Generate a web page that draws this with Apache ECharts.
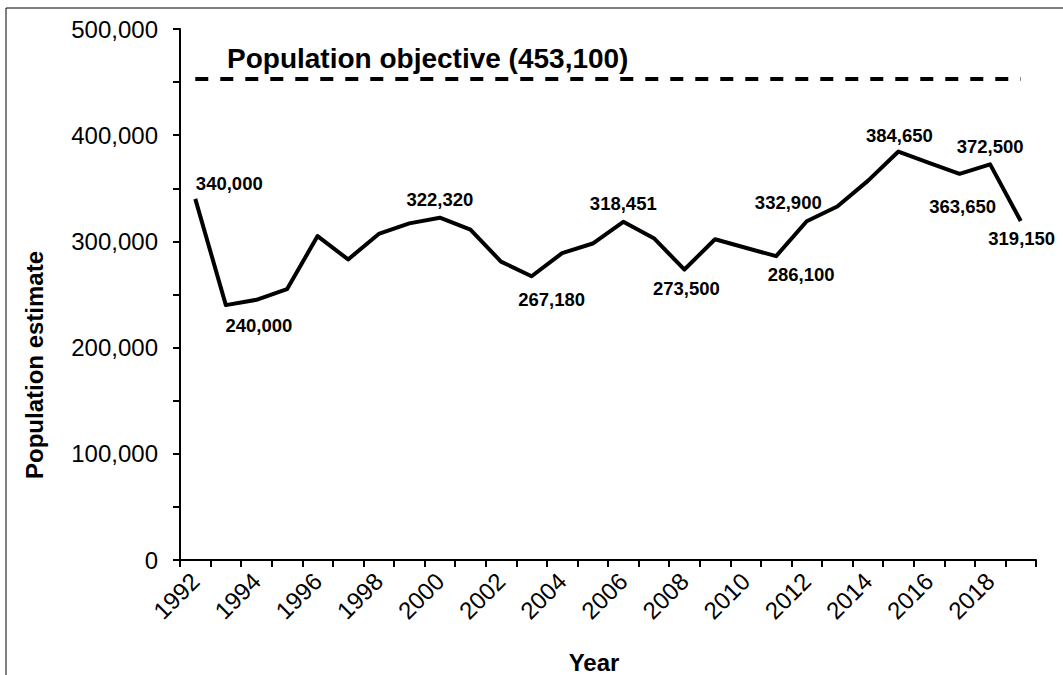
<!DOCTYPE html>
<html>
<head>
<meta charset="utf-8">
<script src="https://cdn.jsdelivr.net/npm/echarts@6/dist/echarts.min.js"></script>
<style>
	html, body { margin: 0; padding: 0; background: #fff; }
	#main { width: 1063px; height: 675px; }
</style>
</head>
<body>
<div id="main"></div>
<script>
// year categories
var years = ["1992", "1993", "1994", "1995", "1996", "1997", "1998", "1999", "2000", "2001",
	"2002", "2003", "2004", "2005", "2006", "2007", "2008", "2009", "2010", "2011",
	"2012", "2013", "2014", "2015", "2016", "2017", "2018", "2019"];
// population estimate per year
var estimates = [340000, 240000, 245000, 255000, 305000, 283000, 307000, 317000, 322320, 311000,
	281000, 267180, 289000, 298000, 318451, 303000, 273500, 302000, 294000, 286100,
	319000, 332900, 357000, 384650, 374000, 363650, 372500, 319150];
// years whose value is written on the chart
var labelYears = ["1992", "1993", "2000", "2003", "2006", "2008", "2011", "2013", "2015", "2017", "2018", "2019"];
var objective = 453100;
var yTicks = [0, 100000, 200000, 300000, 400000, 500000];

// where each value label sits relative to its point (px)
var labelOffset = {
	"1992": [34, -15], "1993": [33, 20], "2000": [0, -18], "2003": [20, 23],
	"2006": [0, -18], "2008": [2, 19], "2011": [25, 18], "2013": [-49, -4],
	"2015": [1, -16], "2017": [3, 33], "2018": [0, -18], "2019": [1, 17]
};

var font = "'Liberation Sans', Arial, sans-serif";
var fmt = function (v) { return Number(v).toLocaleString("en-US"); };

var seriesData = estimates.map(function (v, i) {
	var y = years[i];
	if (labelYears.indexOf(y) < 0) return v;
	return {
		value: v,
		label: { show: true, offset: labelOffset[y] }
	};
});

var myChart = echarts.init(document.getElementById("main"), null, { renderer: "svg" });
myChart.setOption({
	animation: false,
	backgroundColor: "#fff",
	grid: { left: 180, right: 27, top: 29, bottom: 115, containLabel: false },
	xAxis: {
		type: "category",
		data: years,
		boundaryGap: true,
		axisLine: { lineStyle: { color: "#000", width: 2 } },
		axisTick: { show: true, interval: 0, length: 7, inside: false, lineStyle: { color: "#000", width: 2 } },
		axisLabel: {
			interval: 1,
			rotate: 45,
			margin: 17,
			color: "#000",
			fontFamily: font,
			fontSize: 24
		},
		splitLine: { show: false }
	},
	yAxis: {
		type: "value",
		min: 0,
		max: 500000,
		interval: 50000,
		axisLine: { show: true, lineStyle: { color: "#000", width: 2 } },
		axisTick: { show: true, length: 7, lineStyle: { color: "#000", width: 2 } },
		axisLabel: {
			margin: 22,
			color: "#000",
			fontFamily: font,
			fontSize: 24,
			formatter: function (v) {
				return yTicks.indexOf(v) >= 0 ? fmt(v) : "";
			}
		},
		splitLine: { show: false }
	},
	graphic: [
		{
			type: "rect",
			shape: { x: 6, y: 8, width: 1200, height: 800 },
			style: { fill: "none", stroke: "#000", lineWidth: 1 },
			silent: true
		},
		{
			type: "text",
			x: 227, y: 58,
			style: {
				text: "Population objective (" + fmt(objective) + ")",
				font: "bold 28px " + font,
				fill: "#000",
				textAlign: "left",
				textVerticalAlign: "middle"
			}
		},
		{
			type: "text",
			x: 594, y: 662,
			style: {
				text: "Year",
				font: "bold 24px " + font,
				fill: "#000",
				textAlign: "center",
				textVerticalAlign: "middle"
			}
		},
		{
			type: "text",
			x: 34, y: 365,
			rotation: Math.PI / 2,
			style: {
				text: "Population estimate",
				font: "bold 24px " + font,
				fill: "#000",
				textAlign: "center",
				textVerticalAlign: "middle"
			}
		}
	],
	series: [
		{
			name: "Population estimate",
			type: "line",
			data: seriesData,
			symbol: "circle",
			symbolSize: 0.1,
			showSymbol: true,
			itemStyle: { color: "#000" },
			lineStyle: { color: "#000", width: 4, join: "round" },
			label: {
				show: false,
				position: "inside",
				color: "#000",
				fontFamily: font,
				fontWeight: "bold",
				fontSize: 18.5,
				align: "center",
				verticalAlign: "middle",
				formatter: function (p) { return fmt(p.value); }
			},
			markLine: {
				silent: true,
				symbol: "none",
				label: { show: false },
				lineStyle: { color: "#000", width: 4, type: [13, 12] },
				data: [[
					{ coord: [0, objective] },
					{ coord: [years.length - 1, objective] }
				]]
			}
		}
	]
});
</script>
</body>
</html>
